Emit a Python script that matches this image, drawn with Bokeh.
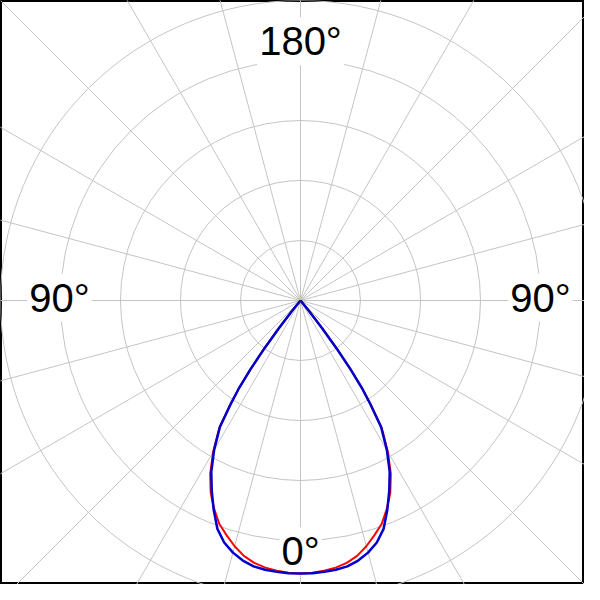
import numpy as np
from bokeh.plotting import figure
from bokeh.models import Range1d
from bokeh.core.properties import value
from bokeh.embed import file_html
from bokeh.resources import INLINE

# ---- data (polar: angle in degrees from 0° at bottom, radius in intensity units) ----
angles = [-40, -39, -38, -37, -36, -35, -34, -32.5, -30, -27.5, -25, -22.5, -20,
          -17.5, -15, -12.5, -10, -7.5, -5, -2.5, 0, 2.5, 5, 7.5, 10, 12.5, 15,
          17.5, 20, 22.5, 25, 27.5, 30, 32.5, 34, 35, 36, 37, 38, 39, 40]
series_red = [0, 20, 58, 100, 142, 180, 209, 252, 291, 326, 354, 376, 396,
              410, 424, 436, 444, 449, 452, 454, 455, 454, 452, 449, 444, 436, 424,
              410, 396, 376, 354, 326, 291, 252, 209, 180, 142, 100, 58, 20, 0]
series_blue = [0, 20, 58, 100, 142, 180, 208, 250, 288, 322, 350, 378, 405,
               423, 435, 444, 450, 452.5, 454, 455, 455, 455, 454, 452.5, 450, 444, 435,
               423, 405, 378, 350, 322, 288, 250, 208, 180, 142, 100, 58, 20, 0]
ring_values = [100, 200, 300, 400, 500]
spoke_angles = list(range(0, 360, 15))
tick_labels = ["180°", "90°", "90°", "0°"]

# ---- figure ----
W = H = 584
px_per_unit = 60 / 100.0
cx = cy = 300  # pixel position of the pole from the top-left corner

p = figure(width=W, height=H, output_backend="svg", toolbar_location=None,
           x_range=Range1d(-cx / px_per_unit, (W - cx) / px_per_unit),
           y_range=Range1d(-(H - cy) / px_per_unit, cy / px_per_unit),
           min_border=0, match_aspect=False)
p.axis.visible = False
p.xgrid.visible = False
p.ygrid.visible = False
p.outline_line_color = "black"
p.outline_line_width = 3
p.background_fill_color = "white"
p.border_fill_color = "white"

grid_col = "#C4C4C4"

# rings
p.circle(x=[0] * len(ring_values), y=[0] * len(ring_values), radius=ring_values,
         fill_color=None, line_color=grid_col, line_width=1)

# spokes
sa = np.radians(spoke_angles)
L = 900
p.segment(x0=[0] * len(sa), y0=[0] * len(sa), x1=list(L * np.sin(sa)), y1=list(-L * np.cos(sa)),
          line_color=grid_col, line_width=1)

# labels (with white background)
lab_x = [0, -401.7, 400, 0]
lab_y = [432, 5, 5, -418]
p.text(x=lab_x, y=lab_y, text=tick_labels, text_font=value("Liberation Sans"),
       text_font_size="40px", text_align="center", text_baseline="alphabetic",
       text_color="black", background_fill_color="white", padding=2)

# curves
def to_xy(ang, r):
    a = np.radians(ang)
    r = np.asarray(r, dtype=float)
    return list(r * np.sin(a)), list(-r * np.cos(a))

rx, ry = to_xy(angles, series_red)
bx, by = to_xy(angles, series_blue)
p.line(rx, ry, line_color="#FF0000", line_width=2)
p.line(bx, by, line_color="#0000CC", line_width=2.5)

open("out.html", "w").write(file_html(p, INLINE))
